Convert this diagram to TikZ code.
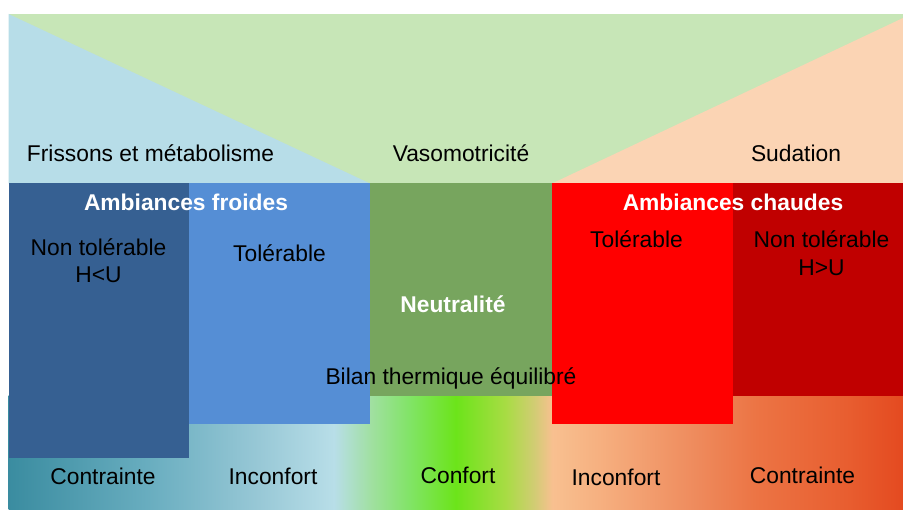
\documentclass[tikz,border=0pt]{standalone}
\usepackage{fontspec}
\setmainfont{Liberation Sans}

% palette
\definecolor{sky}{HTML}{B7DDE8}
\definecolor{mint}{HTML}{C7E6B7}
\definecolor{peach}{HTML}{FBD4B4}
\definecolor{coldhard}{HTML}{366092}
\definecolor{coldsoft}{HTML}{558ED5}
\definecolor{neutral}{HTML}{77A55E}
\definecolor{hotsoft}{HTML}{FF0000}
\definecolor{hothard}{HTML}{C00000}

% comfort scale running from cold (left) to hot (right)
\pgfdeclarehorizontalshading{comfortscale}{100bp}{%
  color(0bp)=(rgb,255:red,58;green,140;blue,160);
  color(25bp)=(rgb,255:red,58;green,140;blue,160);
  color(33bp)=(rgb,255:red,106;green,174;blue,192);
  color(39bp)=(rgb,255:red,152;green,200;blue,214);
  color(43.2bp)=(rgb,255:red,184;green,222;blue,232);
  color(45.3bp)=(rgb,255:red,160;green,224;blue,160);
  color(47.5bp)=(rgb,255:red,128;green,228;blue,100);
  color(50bp)=(rgb,255:red,108;green,228;blue,26);
  color(52.8bp)=(rgb,255:red,168;green,220;blue,68);
  color(54.4bp)=(rgb,255:red,210;green,204;blue,116);
  color(55.4bp)=(rgb,255:red,248;green,192;blue,144);
  color(58bp)=(rgb,255:red,246;green,176;blue,128);
  color(63.5bp)=(rgb,255:red,238;green,138;blue,92);
  color(66.8bp)=(rgb,255:red,236;green,116;blue,68);
  color(71.8bp)=(rgb,255:red,232;green,94;blue,48);
  color(75bp)=(rgb,255:red,228;green,74;blue,32);
  color(100bp)=(rgb,255:red,228;green,74;blue,32)}

\begin{document}
\begin{tikzpicture}[x=1pt,y=-1pt,
  lbl/.style={anchor=base,inner sep=0pt,text=black,
    font=\fontsize{22.8}{27}\selectfont},
  hdr/.style={lbl,text=white,font=\fontsize{22.8}{27}\selectfont\bfseries},
  lbltwo/.style={lbl,align=center,anchor=base,
    font=\fontsize{22.8}{27}\selectfont}]

\useasboundingbox (0,0) rectangle (903,510);
\fill[white] (0,0) rectangle (903,510);

% thermoregulation mechanisms (upper part)
\fill[mint] (8.5,14) rectangle (903,183.5);
\fill[sky] (8.5,14) -- (370,183.5) -- (8.5,183.5) -- cycle;
\fill[peach] (903,18) -- (903,183.5) -- (552,183.5) -- cycle;

% comfort scale (lower part)
\fill[shading=comfortscale] (8.5,396) rectangle (903,510);

% climate zones
\fill[coldhard] (8.5,183.5) rectangle (189,458.5);
\fill[coldsoft] (189,183.5) rectangle (370,424);
\fill[neutral] (370,183.5) rectangle (552,396);
\fill[hotsoft] (552,183.5) rectangle (733,424);
\fill[hothard] (733,183.5) rectangle (903,396);

% mechanisms
\node[lbl] (frissons) at (150.5,162) {Frissons et métabolisme};
\node[lbl] (vaso) at (461,162) {Vasomotricité};
\node[lbl] (sudation) at (796,162) {Sudation};

% zone headings
\node[hdr] (froides) at (186,211) {Ambiances froides};
\node[hdr] (chaudes) at (733,211) {Ambiances chaudes};
\node[hdr] (neutre) at (453,313) {Neutralité};

% tolerance
\node[lbl] (ntfroid) at (98.5,256) {Non tolérable};
\node[lbl] (hu) at (98.5,283) {H<U};
\node[lbl] (tfroid) at (279.5,262) {Tolérable};
\node[lbl] (tchaud) at (636.5,248) {Tolérable};
\node[lbl] (ntchaud) at (821.5,248) {Non tolérable};
\node[lbl] (hsup) at (821.5,276) {H>U};
\node[lbl] (bilan) at (451,385) {Bilan thermique équilibré};

% comfort levels
\node[lbl] (cfroid) at (103,485) {Contrainte};
\node[lbl] (ifroid) at (273,485) {Inconfort};
\node[lbl] (confort) at (458,484) {Confort};
\node[lbl] (ichaud) at (616,486) {Inconfort};
\node[lbl] (cchaud) at (802.5,484) {Contrainte};
\end{tikzpicture}
\end{document}
